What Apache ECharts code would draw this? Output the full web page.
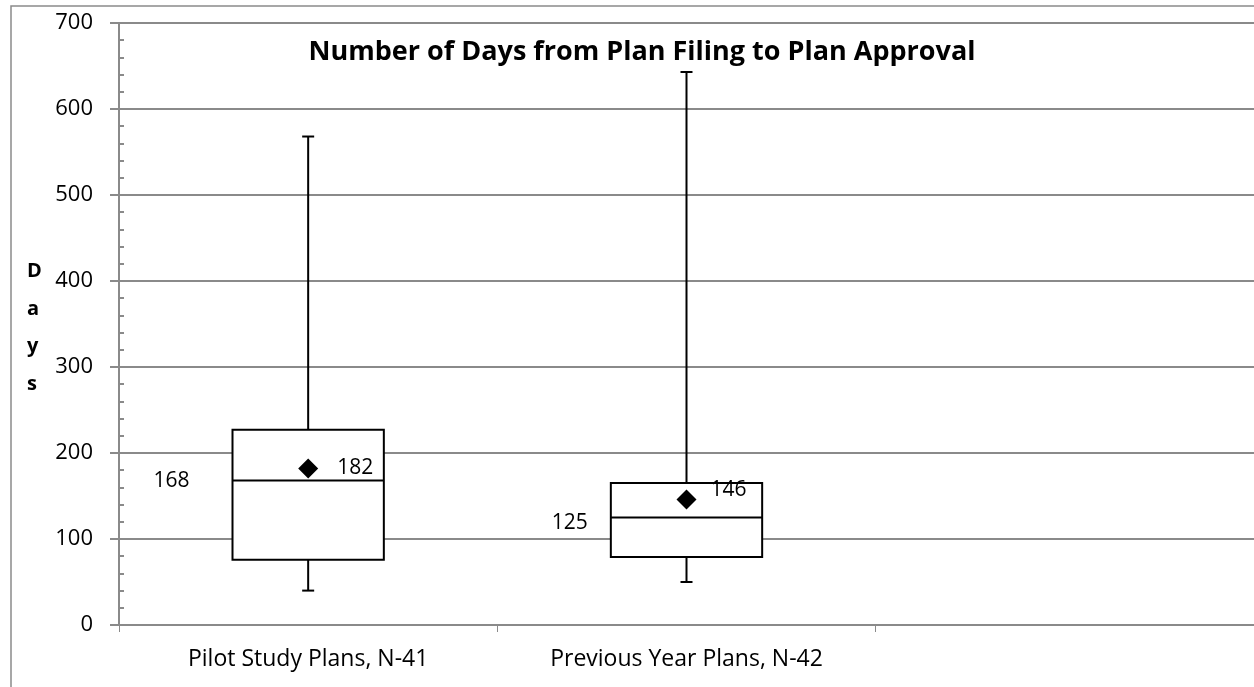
<!DOCTYPE html>
<html>
<head>
<meta charset="utf-8">
<script src="https://cdn.jsdelivr.net/npm/echarts@6/dist/echarts.min.js"></script>
<style>
  html, body { margin: 0; padding: 0; background: #fff; }
  #chart { width: 1254px; height: 687px; }
</style>
</head>
<body>
<div id="chart"></div>
<script>
// Plan approval durations (days), five-number summary plus mean per group
const categories = ['Pilot Study Plans, N-41', 'Previous Year Plans, N-42', ''];
const minDays    = [40, 50];
const q1Days     = [76, 79];
const medianDays = [168, 125];
const q3Days     = [227, 165];
const maxDays    = [568, 643];
const meanDays   = [182, 146];
const yTicks     = [0, 100, 200, 300, 400, 500, 600, 700];

const FONT = '"Open Sans", Lato, sans-serif';
const GRID_GRAY = '#8a8a8a';

// label nudges (pixels) for median / mean labels of each box
const medianLabelShift = [{ dx: -79, dy: 0 }, { dx: -59, dy: 6 }];
const meanLabelShift   = [{ dx: 29, dy: 0 }, { dx: 24, dy: -9 }];

const boxData = minDays.map((_, i) => [i, minDays[i], q1Days[i], medianDays[i], q3Days[i], maxDays[i], meanDays[i]]);

function renderBox(params, api) {
  const i = api.value(0);
  const cx = api.coord([i, 0])[0];
  const bandW = api.size([1, 0])[0];
  const half = bandW * 0.2;
  const capHalf = 6;
  const yMin = api.coord([i, api.value(1)])[1];
  const yQ1 = api.coord([i, api.value(2)])[1];
  const yMed = api.coord([i, api.value(3)])[1];
  const yQ3 = api.coord([i, api.value(4)])[1];
  const yMax = api.coord([i, api.value(5)])[1];
  const yMean = api.coord([i, api.value(6)])[1];
  const line = { stroke: '#000', lineWidth: 2, fill: null };
  const d = 10;
  const ms = medianLabelShift[i], mn = meanLabelShift[i];
  return {
    type: 'group',
    children: [
      { type: 'line', shape: { x1: cx, y1: yQ3, x2: cx, y2: yMax }, style: line },
      { type: 'line', shape: { x1: cx - capHalf, y1: yMax, x2: cx + capHalf, y2: yMax }, style: line },
      { type: 'line', shape: { x1: cx, y1: yQ1, x2: cx, y2: yMin }, style: line },
      { type: 'line', shape: { x1: cx - capHalf, y1: yMin, x2: cx + capHalf, y2: yMin }, style: line },
      { type: 'rect', shape: { x: cx - half, y: yQ3, width: half * 2, height: yQ1 - yQ3 },
        style: { stroke: '#000', lineWidth: 2, fill: '#fff' } },
      { type: 'line', shape: { x1: cx - half, y1: yMed, x2: cx + half, y2: yMed }, style: line },
      { type: 'polygon', shape: { points: [[cx, yMean - d], [cx + d, yMean], [cx, yMean + d], [cx - d, yMean]] },
        style: { fill: '#000' } },
      { type: 'text', x: cx + mn.dx, y: yMean + mn.dy,
        style: { text: String(api.value(6)), font: '21px ' + FONT, fill: '#000', align: 'left', verticalAlign: 'middle' } },
      { type: 'text', x: cx - half + ms.dx, y: yMed + ms.dy,
        style: { text: String(api.value(3)), font: '21px ' + FONT, fill: '#000', align: 'left', verticalAlign: 'middle' } }
    ]
  };
}

const chart = echarts.init(document.getElementById('chart'));
chart.setOption({
  animation: false,
  backgroundColor: '#fff',
  title: {
    text: 'Number of Days from Plan Filing to Plan Approval',
    left: 637, top: 34, textAlign: 'center',
    textStyle: { fontFamily: FONT, fontWeight: 'bold', fontSize: 27, color: '#000' }
  },
  grid: { left: 119, top: 23, right: -5, bottom: 62 },
  xAxis: {
    type: 'category',
    data: categories,
    boundaryGap: true,
    axisLine: { lineStyle: { color: GRID_GRAY, width: 2 } },
    axisTick: { show: true, length: 7, lineStyle: { color: GRID_GRAY, width: 1 } },
    axisLabel: { fontFamily: FONT, fontSize: 23, color: '#000', margin: 23 },
    splitLine: { show: false }
  },
  yAxis: [{
    type: 'value',
    min: yTicks[0], max: yTicks[yTicks.length - 1], interval: 100,
    axisLine: { show: true, lineStyle: { color: GRID_GRAY, width: 2 } },
    axisTick: { show: true, length: 9, lineStyle: { color: GRID_GRAY, width: 2 } },
    axisLabel: { fontFamily: FONT, fontSize: 22, color: '#000', margin: 26 },
    splitLine: { show: true, lineStyle: { color: GRID_GRAY, width: 2 } }
  }, {
    type: 'value',
    position: 'left',
    min: yTicks[0], max: yTicks[yTicks.length - 1], interval: 100,
    axisLine: { show: false },
    axisTick: { show: false, inside: true },
    axisLabel: { show: false },
    splitLine: { show: false },
    minorTick: { show: true, splitNumber: 5, length: 5, lineStyle: { color: GRID_GRAY, width: 2 } }
  }],
  graphic: [
    { type: 'rect', z: -10, silent: true, shape: { x: 11, y: 6, width: 1300, height: 700 },
      style: { fill: null, stroke: GRID_GRAY, lineWidth: 1.5 } },
    { type: 'text', left: 27, top: 253,
      style: { text: 'D\na\ny\ns', font: 'bold 20px ' + FONT, fill: '#000', lineHeight: 37.5 } }
  ],
  series: [{
    type: 'custom',
    renderItem: renderBox,
    data: boxData,
    encode: { x: 0, y: [1, 2, 3, 4, 5, 6] },
    z: 10
  }]
});
</script>
</body>
</html>
